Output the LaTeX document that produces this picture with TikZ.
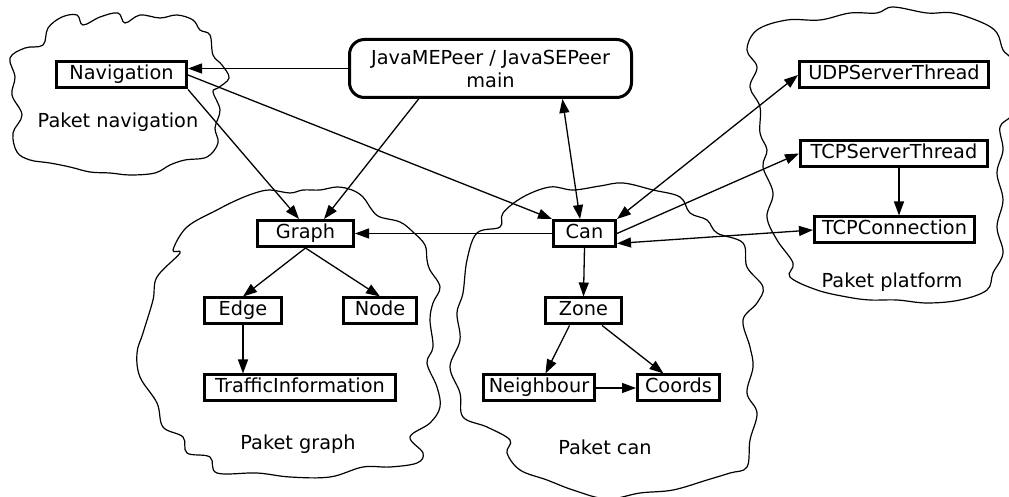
\documentclass[tikz,border=0pt]{standalone}
\usepackage{fontspec}
\setmainfont{DejaVu Sans}
\usetikzlibrary{arrows.meta}

\newcommand{\pkgfont}{\fontsize{9.65}{11.5}\selectfont}

\tikzset{
  classbox/.style={draw=black, line width=1.5pt, fill=white, inner sep=1pt, minimum height=13pt, text height=7pt, text depth=2pt, font=\pkgfont},
  mainbox/.style={draw=black, line width=1.5pt, fill=white, inner sep=1pt, rounded corners=7.5pt, align=center, minimum height=29pt, minimum width=141pt, font=\pkgfont},
  paket/.style={font=\pkgfont, inner sep=0pt},
  cloud/.style={draw=black, line width=0.6pt},
  arrow/.style={-{Triangle[length=7pt,width=5pt]}, line width=0.65pt},
  twoway/.style={{Triangle[length=7pt,width=5pt]}-{Triangle[length=7pt,width=5pt]}, line width=0.65pt}
}

\begin{document}
\begin{tikzpicture}[x=0.5pt, y=-0.5pt]
  \clip (0,0) rectangle (1009,497);

  % package clouds
  \draw[cloud] plot[smooth cycle, tension=0.6] coordinates {
    (10,58) (25,48) (43,45) (48,28) (62,17) (77,15) (83,25) (100,17) (118,13) (125,23)
    (140,15) (160,18) (177,15) (193,20) (200,30) (210,35) (213,55) (222,65) (229,78)
    (218,88) (213,92) (220,110) (215,128) (218,143) (207,157) (185,160) (170,165)
    (155,173) (130,175) (110,173) (90,172) (70,167) (50,163) (30,160) (17,152)
    (13,133) (22,115) (12,95) (15,77)};
  \draw[cloud] plot[smooth cycle, tension=0.6] coordinates {
    (237,200) (255,193) (270,190) (290,193) (303,190) (320,190) (337,187) (352,190)
    (363,197) (372,210) (380,217) (400,222) (413,232) (425,245) (427,260) (430,270)
    (440,287) (433,303) (430,320) (433,347) (427,363) (437,387) (440,407) (430,423)
    (410,437) (423,453) (417,463) (390,467) (363,467) (330,477) (290,477) (257,473)
    (217,473) (210,457) (187,453) (183,437) (163,427) (157,403) (140,377) (137,353)
    (143,333) (153,300) (157,277) (180,253) (173,250) (187,227) (217,210)};
  \draw[cloud] plot[smooth cycle, tension=0.6] coordinates {
    (523,197) (550,187) (573,190) (600,186) (623,183) (653,190) (680,197) (690,213)
    (707,220) (717,233) (743,243) (747,267) (763,287) (757,303) (743,320) (750,347)
    (753,367) (747,393) (757,413) (750,440) (747,467) (730,473) (707,480) (673,490)
    (640,493) (607,499) (573,490) (547,480) (520,470) (507,453) (510,440) (487,427)
    (463,417) (460,393) (450,367) (460,340) (457,313) (463,293) (467,260) (477,233)
    (500,227) (503,213)};
  \draw[cloud] plot[smooth cycle, tension=0.6] coordinates {
    (747,50) (757,30) (787,20) (820,20) (850,13) (877,13) (893,7) (927,13) (953,13)
    (983,23) (997,33) (1003,50) (1012,60) (1025,90) (1012,115) (1000,127) (1003,150)
    (997,173) (1003,200) (997,227) (1003,253) (993,273) (987,290) (960,300) (927,303)
    (897,300) (870,300) (847,297) (817,290) (790,277) (793,263) (777,240) (767,217)
    (773,193) (763,167) (767,150) (760,133) (760,107) (750,87) (757,67)};

  \node[paket] (pnav) at (118,122) {Paket navigation};
  \node[paket] (pgraph) at (298,444) {Paket graph};
  \node[paket] (pcan) at (605,447) {Paket can};
  \node[paket] (pplatform) at (892,282) {Paket platform};

  % classes
  \node[mainbox] (main) at (490.5,68.5) {JavaMEPeer / JavaSEPeer\\main};
  \node[classbox, minimum width=65pt] (nav) at (121.5,75) {Navigation};
  \node[classbox, minimum width=48pt] (graph) at (305.5,233.5) {Graph};
  \node[classbox, minimum width=38.5pt] (edge) at (243,311) {Edge};
  \node[classbox, minimum width=36.5pt] (gnode) at (380,311) {Node};
  \node[classbox, minimum width=95.5pt] (traffic) at (300,388) {TrafficInformation};
  \node[classbox, minimum width=31pt] (can) at (584.5,233.5) {Can};
  \node[classbox, minimum width=38pt] (zone) at (583.5,311) {Zone};
  \node[classbox, minimum width=55.5pt] (neighbour) at (539,388) {Neighbour};
  \node[classbox, minimum width=41pt] (coords) at (678.5,388) {Coords};
  \node[classbox, minimum width=94.5pt] (udp) at (894,75) {UDPServerThread};
  \node[classbox, minimum width=93.5pt] (tcpserver) at (894,153.5) {TCPServerThread};
  \node[classbox, minimum width=80pt] (tcpconn) at (894.5,230) {TCPConnection};

  % dependencies
  \draw[arrow] (main.west) -- (main.west -| nav.east);
  \draw[arrow] (main.203) -- (graph.38);
  \draw[arrow] (nav.south east) -- (graph.114);
  \draw[arrow] (nav.east) -- (can.north west);
  \draw[twoway] (main.337) -- (can.107);
  \draw[twoway] (can.north east) -- (udp.west);
  \draw[arrow] (can.east) -- (tcpserver.west);
  \draw[twoway] (can.-17) -- (tcpconn.west);
  \draw[arrow] ([xshift=2.5pt]tcpserver.south) -- ([xshift=2.5pt]tcpserver.south |- tcpconn.north);
  \draw[arrow] (can.west) -- (graph.east);
  \draw[arrow] (graph.south) -- (edge.north);
  \draw[arrow] (graph.south) -- (gnode.north);
  \draw[arrow] (edge.south) -- (edge.south |- traffic.north);
  \draw[arrow] (can.south) -- (zone.north);
  \draw[arrow] (zone.226) -- (neighbour.66);
  \draw[arrow] (zone.-38) -- (coords.136);
  \draw[arrow] (neighbour) -- (coords);
\end{tikzpicture}
\end{document}
